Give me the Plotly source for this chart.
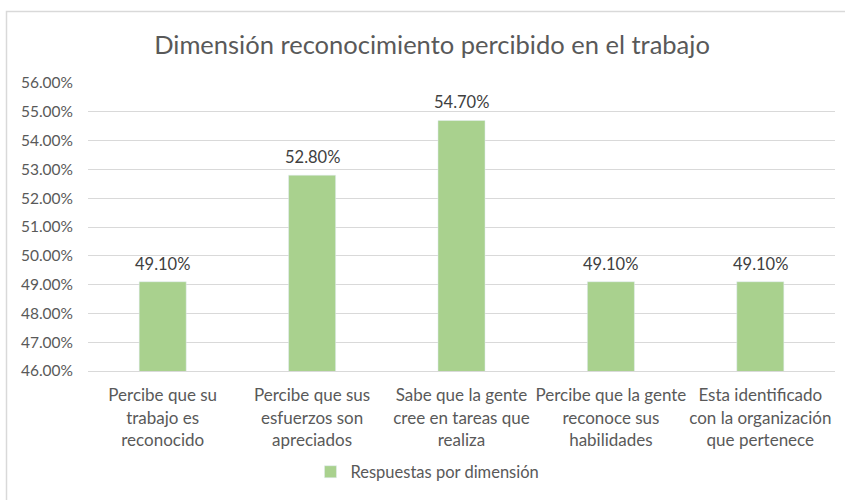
import plotly.graph_objects as go

categories = [
    "Percibe que su<br>trabajo es<br>reconocido",
    "Percibe que sus<br>esfuerzos son<br>apreciados",
    "Sabe que la gente<br>cree en tareas que<br>realiza",
    "Percibe que la gente<br>reconoce sus<br>habilidades",
    "Esta identificado<br>con la organización<br>que pertenece",
]
values = [0.491, 0.528, 0.547, 0.491, 0.491]
series_name = "Respuestas por dimensión"
title = "Dimensión reconocimiento percibido en el trabajo"
tick_vals = [0.46, 0.47, 0.48, 0.49, 0.50, 0.51, 0.52, 0.53, 0.54, 0.55, 0.56]

W, H = 845, 500
L, R, T, B = 88, 10, 83, 129
pw = W - L - R
ph = H - T - B

def px_to_paper_x(x):
    return (x - L) / pw

def px_to_paper_y(y):
    return (H - B - y) / ph

font_fam = "Lato, 'Open Sans', sans-serif"
txt = "#595959"

fig = go.Figure(go.Bar(
    x=categories, y=values, name=series_name,
    marker=dict(color="#A9D18E"),
    showlegend=True,
))

annotations = [
    dict(x=c, y=v, xref="x", yref="y", text=f"{v:.2%}", showarrow=False,
         yanchor="bottom", yshift=6,
         font=dict(size=16.5, color="#404040", family=font_fam))
    for c, v in zip(categories, values)
]

fig.update_layout(
    width=W, height=H,
    margin=dict(l=L, r=R, t=T, b=B),
    paper_bgcolor="white", plot_bgcolor="white",
    title=dict(text=title, x=432 / W, xanchor="center", y=1 - 45 / H, yanchor="middle",
               font=dict(size=25.5, color=txt, family=font_fam)),
    bargap=0.685,
    font=dict(family=font_fam, color=txt),
    xaxis=dict(showline=True, linecolor="#D9D9D9", linewidth=1, ticks="",
               tickfont=dict(size=17, color=txt, family=font_fam), showgrid=False,
               ticklabelstandoff=9),
    yaxis=dict(range=[0.46, 0.56], tickvals=tick_vals, tickformat=".2%",
               showgrid=True, gridcolor="#D9D9D9", gridwidth=1, zeroline=False,
               tickfont=dict(size=15.5, color=txt, family=font_fam), ticks="",
               ticklabelstandoff=14),
    legend=dict(orientation="h", x=384 / W, xref="paper", xanchor="center",
                y=px_to_paper_y(472), yanchor="middle", itemwidth=30,
                font=dict(size=16.5, color=txt, family=font_fam)),
    annotations=annotations,
    shapes=[dict(type="rect", xref="paper", yref="paper",
                 x0=px_to_paper_x(6.5), x1=px_to_paper_x(W + 10),
                 y0=px_to_paper_y(H + 10), y1=px_to_paper_y(11.5),
                 line=dict(color="#D9D9D9", width=1.5), fillcolor="rgba(0,0,0,0)",
                 layer="below")],
)

fig.write_html("out.html", config={"displayModeBar": False},
               post_script="document.body.style.margin='0';")
